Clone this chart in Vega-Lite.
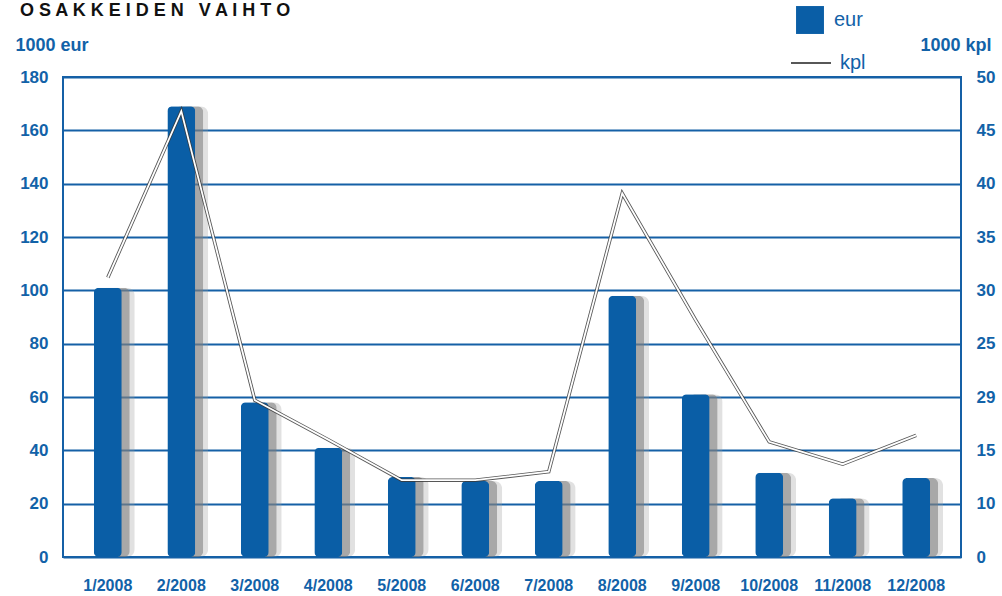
{
  "$schema": "https://vega.github.io/schema/vega-lite/v6.json",
  "autosize": {"type": "none"},
  "width": 898,
  "height": 480,
  "padding": {"left": 63, "top": 77, "right": 41, "bottom": 39},
  "background": "white",
  "title": {
    "text": "O S A K K E I D E N\u00a0\u00a0\u00a0V A I H T O",
    "anchor": "start",
    "frame": "group",
    "dx": -43,
    "offset": 0,
    "dy": 15,
    "fontSize": 18,
    "fontWeight": "bold",
    "font": "Liberation Sans",
    "color": "#111111"
  },
  "config": {
    "view": {"stroke": "#1560a6", "strokeWidth": 2},
    "font": "Liberation Sans",
    "axis": {
      "labelFont": "Liberation Sans",
      "labelFontWeight": "bold",
      "labelFontSize": 17,
      "labelColor": "#1262a8",
      "titleFont": "Liberation Sans",
      "titleFontWeight": "bold",
      "titleFontSize": 18,
      "titleColor": "#1262a8",
      "ticks": false,
      "domain": false
    },
    "legend": {
      "labelFont": "Liberation Sans",
      "labelFontSize": 20,
      "labelColor": "#1262a8",
      "padding": 0
    }
  },
  "data": {
    "values": [
      {"month": "1/2008", "eur": 101, "kpl": 31.2},
      {"month": "2/2008", "eur": 169, "kpl": 46.8},
      {"month": "3/2008", "eur": 58, "kpl": 19.7},
      {"month": "4/2008", "eur": 41, "kpl": 16.0},
      {"month": "5/2008", "eur": 30, "kpl": 12.2},
      {"month": "6/2008", "eur": 28.5, "kpl": 12.2},
      {"month": "7/2008", "eur": 28.5, "kpl": 13.0},
      {"month": "8/2008", "eur": 98, "kpl": 39.1},
      {"month": "9/2008", "eur": 61, "kpl": 27.2},
      {"month": "10/2008", "eur": 31.6, "kpl": 15.8},
      {"month": "11/2008", "eur": 22, "kpl": 13.7},
      {"month": "12/2008", "eur": 29.6, "kpl": 16.4}
    ]
  },
  "encoding": {
    "x": {
      "field": "month",
      "type": "ordinal",
      "sort": null,
      "scale": {"paddingInner": 0.62, "paddingOuter": 0.42},
      "axis": {"title": null, "labelAngle": 0, "labelPadding": 20, "grid": false, "labelFontSize": 16}
    }
  },
  "layer": [
    {
      "encoding": {
        "y": {
          "field": "eur",
          "type": "quantitative",
          "scale": {"domain": [0, 180]},
          "axis": {
            "values": [0, 20, 40, 60, 80, 100, 120, 140, 160, 180],
            "grid": true,
            "gridColor": "#1560a6",
            "gridWidth": 2,
            "gridOpacity": 1,
            "labelPadding": 15,
            "title": "1000 eur",
            "titleAngle": 0,
            "titleAlign": "left",
            "titleBaseline": "middle",
            "titleX": -48,
            "titleY": -32
          }
        }
      },
      "layer": [
        {"mark": {"type": "bar", "color": "#9a9a9a", "opacity": 0.3, "xOffset": 13, "cornerRadius": 8}},
        {"mark": {"type": "bar", "color": "#7a7a7a", "opacity": 0.55, "xOffset": 8, "cornerRadius": 6}},
        {
          "mark": {"type": "bar", "cornerRadius": 5},
          "encoding": {
            "color": {
              "datum": "eur",
              "scale": {"range": ["#0a5ea6"]},
              "legend": {
                "title": null,
                "orient": "none",
                "legendX": 732,
                "legendY": -72,
                "symbolType": "square",
                "symbolSize": 780,
                "symbolOpacity": 1,
                "labelOffset": 9
              }
            }
          }
        }
      ]
    },
    {
      "encoding": {
        "y": {
          "field": "kpl",
          "type": "quantitative",
          "scale": {"domain": [5, 50]},
          "axis": {
            "orient": "right",
            "values": [5, 10, 15, 20, 25, 30, 35, 40, 45, 50],
            "labelExpr": "datum.value == 20 ? '29' : datum.value == 5 ? '0' : datum.label",
            "grid": false,
            "labelPadding": 15,
            "title": "1000 kpl",
            "titleAngle": 0,
            "titleAlign": "left",
            "titleBaseline": "middle",
            "titleX": -41,
            "titleY": -32
          }
        }
      },
      "layer": [
        {
          "mark": {"type": "line", "strokeWidth": 3.5, "opacity": 0.85},
          "encoding": {
            "stroke": {
              "datum": "kpl",
              "scale": {"range": ["#3a3a3a"]},
              "legend": {
                "title": null,
                "orient": "none",
                "legendX": 727,
                "legendY": -35,
                "symbolType": "stroke",
                "symbolStrokeWidth": 2,
                "symbolSize": 1600,
                "labelOffset": 8
              }
            }
          }
        },
        {"mark": {"type": "line", "color": "white", "strokeWidth": 1.8}, "encoding": {}}
      ]
    }
  ],
  "resolve": {"scale": {"y": "independent", "color": "independent", "stroke": "independent"}}
}
